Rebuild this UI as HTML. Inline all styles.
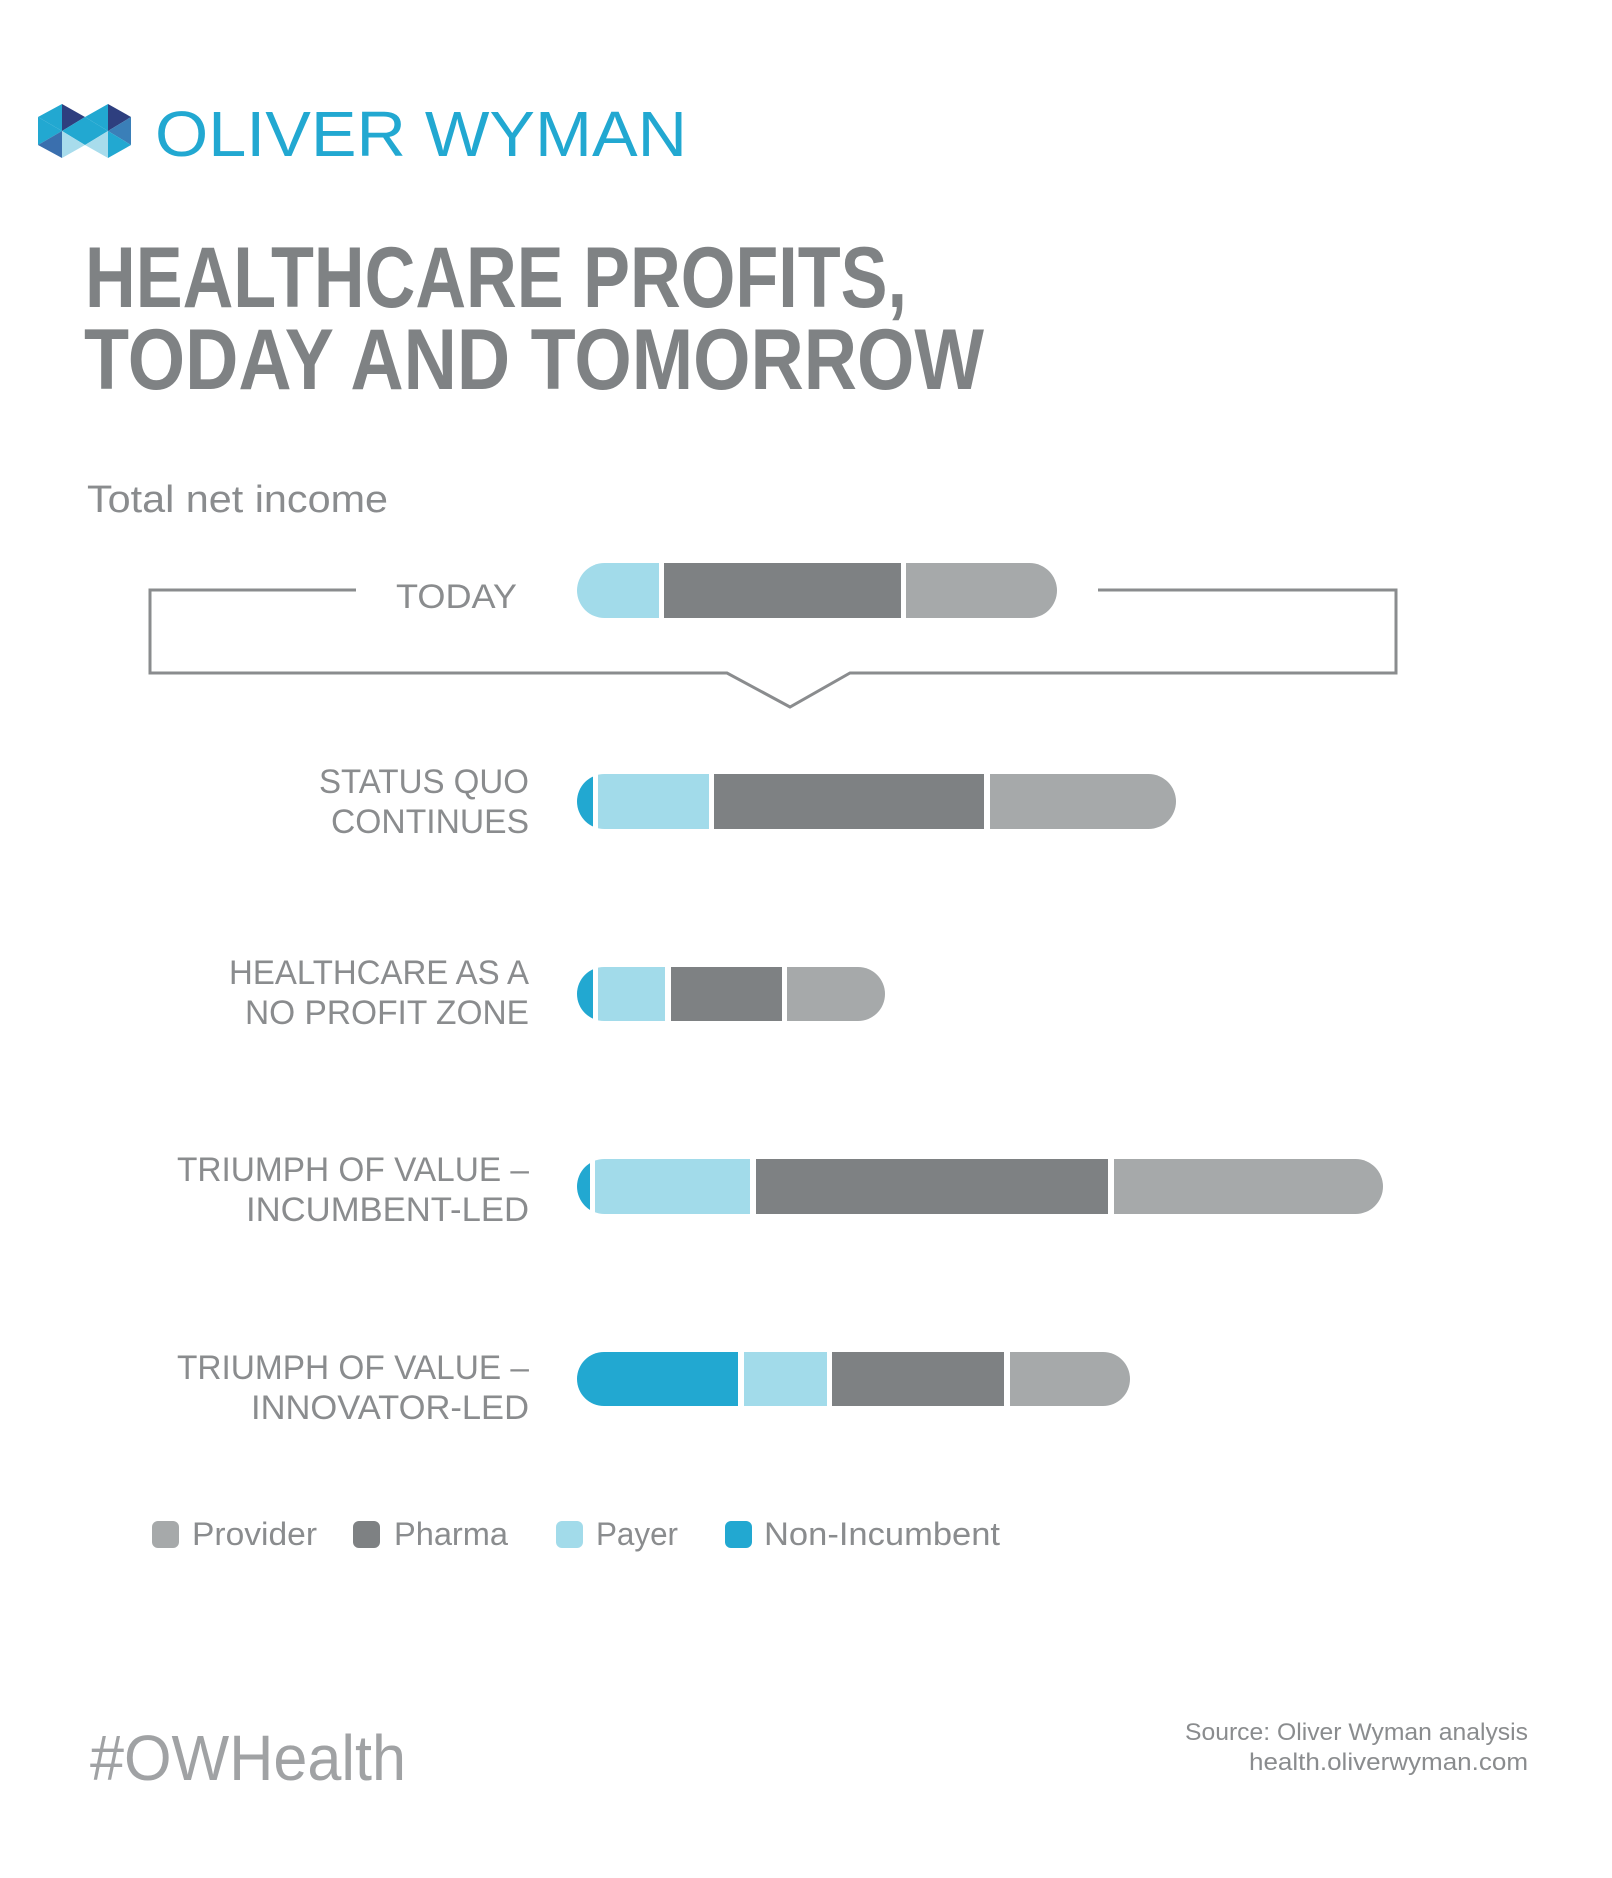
<!DOCTYPE html>
<html><head><meta charset="utf-8"><style>html,body{margin:0;padding:0;background:#fff}svg{display:block}</style></head>
<body>
<svg width="1612" height="1878" viewBox="0 0 1612 1878" xmlns="http://www.w3.org/2000/svg" font-family="Liberation Sans, sans-serif">
<rect width="1612" height="1878" fill="#fff"/>
<g transform="translate(0,3)">
<!-- logo -->
<g>
<polygon points="38,114 62,101 62,128" fill="#22a8d1"/>
<polygon points="62,101 85,114 62,128" fill="#2e3f7f"/>
<polygon points="85,114 108,101 108,128" fill="#22a8d1"/>
<polygon points="108,101 131,114 108,128" fill="#2e3f7f"/>
<polygon points="38,114 62,128 38,142" fill="#22a8d1"/>
<polygon points="62,128 85,114 85,142" fill="#22a8d1"/>
<polygon points="85,114 108,128 85,142" fill="#22a8d1"/>
<polygon points="108,128 131,114 131,142" fill="#3a7fb8"/>
<polygon points="38,142 62,128 62,155" fill="#3a6fae"/>
<polygon points="62,128 85,142 62,155" fill="#a8dcec"/>
<polygon points="85,142 108,128 108,155" fill="#a8dcec"/>
<polygon points="108,128 131,142 108,155" fill="#22a8d1"/>
</g>
<text x="155" y="153" font-size="64" fill="#22a8d1" textLength="532" lengthAdjust="spacingAndGlyphs">OLIVER WYMAN</text>
<text x="85" y="304" font-size="86" font-weight="bold" fill="#7f8284" textLength="822" lengthAdjust="spacingAndGlyphs">HEALTHCARE PROFITS,</text>
<text x="84" y="386" font-size="86" font-weight="bold" fill="#7f8284" textLength="900" lengthAdjust="spacingAndGlyphs">TODAY AND TOMORROW</text>
<text x="87" y="509" font-size="38" fill="#8a8c8e" textLength="301" lengthAdjust="spacingAndGlyphs">Total net income</text>
<polyline points="356,587 150,587 150,670 727,670 790,704 850,670 1396,670 1396,587 1098,587" fill="none" stroke="#8a8c8e" stroke-width="3"/>
<text x="517" y="605" font-size="34" fill="#8a8c8e" text-anchor="end" textLength="121" lengthAdjust="spacingAndGlyphs">TODAY</text>
<defs>
<clipPath id="c0"><rect x="577" y="560" width="480" height="55" rx="27.5"/></clipPath>
<clipPath id="c1"><rect x="577" y="771" width="599" height="55" rx="27.5"/></clipPath>
<clipPath id="c2"><rect x="577" y="964" width="308" height="54" rx="27"/></clipPath>
<clipPath id="c3"><rect x="577" y="1156" width="806" height="55" rx="27.5"/></clipPath>
<clipPath id="c4"><rect x="577" y="1349" width="553" height="54" rx="27"/></clipPath>
</defs>
<g clip-path="url(#c0)">
<rect x="577" y="560" width="82" height="55" fill="#a2dbea"/>
<rect x="664" y="560" width="237" height="55" fill="#7e8183"/>
<rect x="906" y="560" width="151" height="55" fill="#a6a9aa"/>
</g>
<g clip-path="url(#c1)">
<rect x="577" y="771" width="16" height="55" fill="#22a8d1"/>
<rect x="598" y="771" width="111" height="55" fill="#a2dbea"/>
<rect x="714" y="771" width="270" height="55" fill="#7e8183"/>
<rect x="990" y="771" width="186" height="55" fill="#a6a9aa"/>
</g>
<g clip-path="url(#c2)">
<rect x="577" y="964" width="16" height="54" fill="#22a8d1"/>
<rect x="598" y="964" width="67" height="54" fill="#a2dbea"/>
<rect x="671" y="964" width="111" height="54" fill="#7e8183"/>
<rect x="787" y="964" width="98" height="54" fill="#a6a9aa"/>
</g>
<g clip-path="url(#c3)">
<rect x="577" y="1156" width="13" height="55" fill="#22a8d1"/>
<rect x="595" y="1156" width="155" height="55" fill="#a2dbea"/>
<rect x="756" y="1156" width="352" height="55" fill="#7e8183"/>
<rect x="1114" y="1156" width="269" height="55" fill="#a6a9aa"/>
</g>
<g clip-path="url(#c4)">
<rect x="577" y="1349" width="161" height="54" fill="#22a8d1"/>
<rect x="744" y="1349" width="83" height="54" fill="#a2dbea"/>
<rect x="832" y="1349" width="172" height="54" fill="#7e8183"/>
<rect x="1010" y="1349" width="120" height="54" fill="#a6a9aa"/>
</g>
<g font-size="34" fill="#8a8c8e" text-anchor="end">
<text x="529" y="790" textLength="210" lengthAdjust="spacingAndGlyphs">STATUS QUO</text>
<text x="529" y="830" textLength="198" lengthAdjust="spacingAndGlyphs">CONTINUES</text>
<text x="529" y="981" textLength="300" lengthAdjust="spacingAndGlyphs">HEALTHCARE AS A</text>
<text x="529" y="1021" textLength="284" lengthAdjust="spacingAndGlyphs">NO PROFIT ZONE</text>
<text x="529" y="1178" textLength="352" lengthAdjust="spacingAndGlyphs">TRIUMPH OF VALUE –</text>
<text x="529" y="1218" textLength="283" lengthAdjust="spacingAndGlyphs">INCUMBENT-LED</text>
<text x="529" y="1376" textLength="352" lengthAdjust="spacingAndGlyphs">TRIUMPH OF VALUE –</text>
<text x="529" y="1416" textLength="278" lengthAdjust="spacingAndGlyphs">INNOVATOR-LED</text>
</g>
<rect x="152" y="1518" width="27" height="27" rx="6" fill="#a6a9aa"/>
<rect x="353" y="1518" width="27" height="27" rx="6" fill="#7e8183"/>
<rect x="556" y="1518" width="27" height="27" rx="6" fill="#a2dbea"/>
<rect x="725" y="1518" width="27" height="27" rx="6" fill="#22a8d1"/>
<g font-size="32" fill="#8a8c8e">
<text x="192" y="1542" textLength="125" lengthAdjust="spacingAndGlyphs">Provider</text>
<text x="394" y="1542" textLength="114" lengthAdjust="spacingAndGlyphs">Pharma</text>
<text x="596" y="1542" textLength="82" lengthAdjust="spacingAndGlyphs">Payer</text>
<text x="764" y="1542" textLength="236" lengthAdjust="spacingAndGlyphs">Non-Incumbent</text>
</g>
<text x="90" y="1777" font-size="64" fill="#a0a2a4" textLength="316" lengthAdjust="spacingAndGlyphs">#OWHealth</text>
<g font-size="24" fill="#8a8c8e" text-anchor="end">
<text x="1528" y="1737" textLength="343" lengthAdjust="spacingAndGlyphs">Source: Oliver Wyman analysis</text>
<text x="1528" y="1767" textLength="279" lengthAdjust="spacingAndGlyphs">health.oliverwyman.com</text>
</g>
</g>
</svg>
</body></html>
